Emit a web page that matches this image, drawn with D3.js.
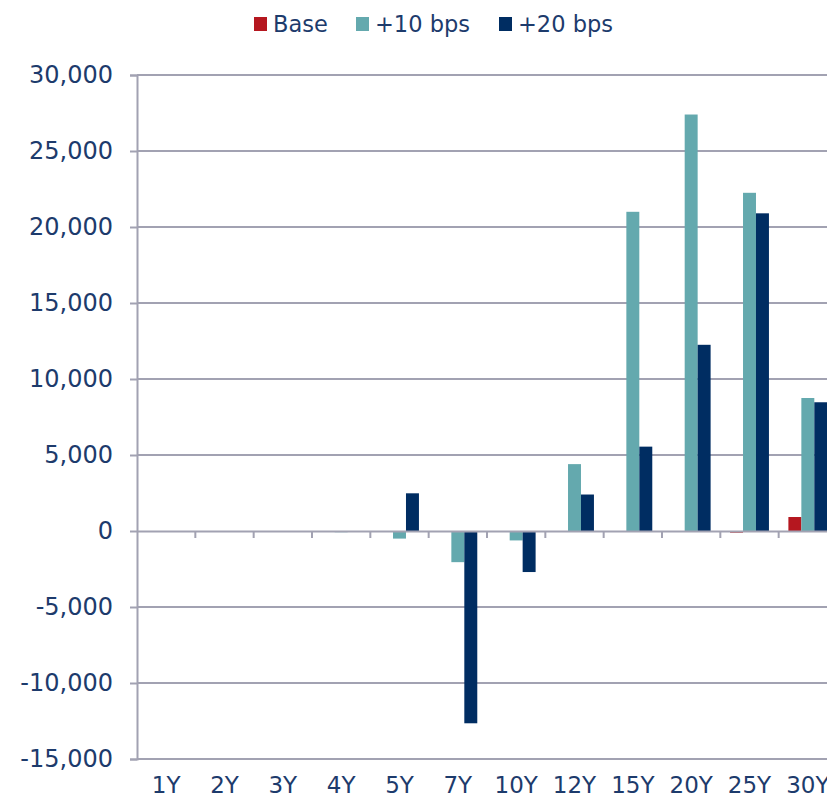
<!DOCTYPE html>
<html>
<head>
<meta charset="utf-8">
<script src="https://cdn.jsdelivr.net/npm/d3@7"></script>
<style>
  html, body { margin: 0; padding: 0; background: #ffffff; }
  svg { display: block; }
  text { font-family: "DejaVu Sans", sans-serif; fill: #1d3b6c; }
</style>
</head>
<body>
<svg id="chart" width="827" height="799"></svg>
<script>
// Tenor buckets along the x axis
const tenors = ["1Y", "2Y", "3Y", "4Y", "5Y", "7Y", "10Y", "12Y", "15Y", "20Y", "25Y", "30Y"];

// Series names and values per tenor
const seriesNames = ["Base", "+10 bps", "+20 bps"];
const baseValues = [0, 0, 0, 0, 0, 0, 0, 0, 0, -40, -110, 920];
const plus10Values = [0, 0, -20, -80, -500, -2050, -620, 4400, 21000, 27400, 22250, 8750];
const plus20Values = [0, 0, 0, 0, 2480, -12650, -2700, 2400, 5550, 12250, 20900, 8470];

// Y axis ticks
const yTicks = [-15000, -10000, -5000, 0, 5000, 10000, 15000, 20000, 25000, 30000];

const seriesColors = ["#b5171f", "#64a9ae", "#002d62"];
const seriesValues = [baseValues, plus10Values, plus20Values];

const svg = d3.select("#chart");
const plotLeft = 137, plotRight = 837, plotTop = 75, plotBottom = 759;

const x = d3.scaleBand().domain(tenors).range([plotLeft, plotRight]).paddingInner(0).paddingOuter(0);
const y = d3.scaleLinear().domain([-15000, 30000]).range([plotBottom, plotTop]);

// Each category holds three bars plus a 150% gap
const barW = x.bandwidth() / 4.5;
const xs = d3.scaleBand().domain(seriesNames).range([x.bandwidth() * 0.75 / 4.5, x.bandwidth() * 0.75 / 4.5 + barW * 3]);

const gridColor = "#a2a2b2";

// Horizontal gridlines
svg.append("g")
  .selectAll("line")
  .data(yTicks.filter(d => d !== 0))
  .join("line")
  .attr("x1", plotLeft).attr("x2", plotRight)
  .attr("y1", d => y(d)).attr("y2", d => y(d))
  .attr("stroke", gridColor).attr("stroke-width", 2);

// Bars
const rows = tenors.map((t, i) => ({ tenor: t, vals: seriesValues.map((s, k) => ({ name: seriesNames[k], v: s[i], c: seriesColors[k] })) }));
svg.append("g")
  .selectAll("g")
  .data(rows)
  .join("g")
  .attr("transform", d => `translate(${x(d.tenor)},0)`)
  .selectAll("rect")
  .data(d => d.vals)
  .join("rect")
  .attr("x", d => xs(d.name))
  .attr("width", barW)
  .attr("y", d => Math.min(y(d.v), y(0)))
  .attr("height", d => Math.abs(y(d.v) - y(0)))
  .attr("fill", d => d.c);

// Y axis, thousands separated, plain hyphen for negatives
const fmt = d3.format(",");
const yAxis = d3.axisLeft(y).tickValues(yTicks).tickSize(7).tickPadding(17)
  .tickFormat(d => fmt(d).replace("\u2212", "-"));
const gy = svg.append("g").attr("transform", `translate(${plotLeft},0)`).call(yAxis);
gy.select(".domain").attr("stroke", gridColor).attr("stroke-width", 2);
gy.selectAll(".tick line").attr("stroke", gridColor).attr("stroke-width", 2);
gy.selectAll(".tick text")
  .attr("font-size", 24).attr("font-family", "DejaVu Sans, sans-serif")
  .attr("fill", "#1d3b6c");

// Zero line with category tick marks
const gx = svg.append("g").attr("transform", `translate(0,${y(0)})`)
  .call(d3.axisBottom(x).tickSize(0).tickFormat(""));
gx.select(".domain").attr("stroke", gridColor).attr("stroke-width", 2);
gx.selectAll(".tick").remove();
svg.append("g")
  .selectAll("line")
  .data(tenors.slice(1))
  .join("line")
  .attr("x1", d => x(d)).attr("x2", d => x(d))
  .attr("y1", y(0)).attr("y2", y(0) + 7)
  .attr("stroke", gridColor).attr("stroke-width", 2);

// Category labels below the plot
svg.append("g")
  .selectAll("text")
  .data(tenors)
  .join("text")
  .attr("x", d => x(d) + x.bandwidth() / 2)
  .attr("y", 793)
  .attr("text-anchor", "middle")
  .attr("font-size", 23)
  .text(d => d);

// Legend
const legendItems = [
  { name: "Base", sx: 254, tx: 273 },
  { name: "+10 bps", sx: 356, tx: 375 },
  { name: "+20 bps", sx: 499, tx: 518 }
];
const lg = svg.append("g");
legendItems.forEach((d, i) => {
  lg.append("rect").attr("x", d.sx).attr("y", 17).attr("width", 13).attr("height", 14)
    .attr("fill", seriesColors[i]);
  lg.append("text").attr("x", d.tx).attr("y", 32).attr("font-size", 22.5).text(d.name);
});
</script>
</body>
</html>
